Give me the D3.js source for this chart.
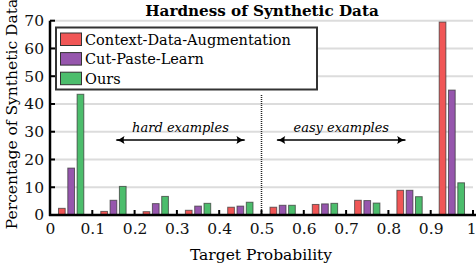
<!DOCTYPE html>
<html>
<head>
<meta charset="utf-8">
<script src="https://cdn.jsdelivr.net/npm/d3@7"></script>
<style>
  body { margin: 0; background: #fff; }
  svg text { font-family: "DejaVu Serif", serif; }
</style>
</head>
<body>
<svg id="chart" width="476" height="266"></svg>
<script>
// bins of target probability, 0.0-0.1 ... 0.9-1.0
const bins = [0, 0.1, 0.2, 0.3, 0.4, 0.5, 0.6, 0.7, 0.8, 0.9]
const seriesNames = ["Context-Data-Augmentation", "Cut-Paste-Learn", "Ours"]
const contextData = [2.4, 1.3, 1.2, 1.7, 2.8, 2.8, 3.8, 5.3, 8.9, 69.5]
const cutPaste = [16.9, 5.3, 4.1, 3.2, 3.2, 3.5, 4.0, 5.2, 8.9, 45.0]
const ours = [43.5, 10.3, 6.7, 4.2, 4.6, 3.5, 4.2, 4.3, 6.6, 11.6]
const colors = ["#f05656", "#9656ad", "#4cbd6c"]
const xTicks = [0, 0.1, 0.2, 0.3, 0.4, 0.5, 0.6, 0.7, 0.8, 0.9, 1]
const yTicks = [0, 10, 20, 30, 40, 50, 60, 70]

const FONT = "DejaVu Serif"

const svg = d3.select("#chart")

const x = d3.scaleLinear().domain([0, 1]).range([50, 473])
const y = d3.scaleLinear().domain([0, 70]).range([215, 20.7])

const allSeries = [contextData, cutPaste, ours]

// grid lines
svg.append("g")
    .selectAll("line")
    .data(yTicks.slice(1))
    .join("line")
    .attr("x1", x(0))
    .attr("x2", x(1))
    .attr("y1", d => y(d))
    .attr("y2", d => y(d))
    .attr("stroke", "#dcdcdc")
    .attr("stroke-width", 2)

// bars: three per bin, offset around bin center
const barW = 6.7
const offsets = [-0.022, 0, 0.022]
allSeries.forEach((vals, s) => {
    svg.append("g")
        .selectAll("rect")
        .data(vals)
        .join("rect")
        .attr("x", (d, i) => x(bins[i] + 0.05 + offsets[s]) - barW / 2)
        .attr("y", d => y(d))
        .attr("width", barW)
        .attr("height", d => y(0) - y(d))
        .attr("fill", colors[s])
        .attr("stroke", "#333")
        .attr("stroke-opacity", 0.7)
        .attr("stroke-width", 1)
})

// dotted divider at 0.5
svg.append("line")
    .attr("x1", x(0.5)).attr("x2", x(0.5))
    .attr("y1", 95).attr("y2", y(0))
    .attr("stroke", "#222")
    .attr("stroke-width", 1.5)
    .attr("stroke-dasharray", "1,1")

// axes
const xAxis = d3.axisBottom(x)
    .tickValues(xTicks)
    .tickSize(0)
    .tickPadding(8)
    .tickFormat(d => d === 0 || d === 1 ? d3.format("d")(d) : d3.format(".1f")(d))
const gx = svg.append("g")
    .attr("transform", `translate(0,${y(0)})`)
    .call(xAxis)
gx.attr("font-family", FONT).attr("font-size", 15.5)
gx.select(".domain").attr("stroke", "#000").attr("stroke-width", 2.5)
    .attr("d", `M${x(0) - 1},0H476`)
gx.selectAll(".tick text").attr("fill", "#111")
// last label sits at the right edge, keep it inside the picture
gx.selectAll(".tick text").filter(d => d === 1).attr("text-anchor", "end").attr("dx", 3)

// small inner ticks on x axis
svg.append("g")
    .selectAll("line")
    .data(xTicks.slice(1))
    .join("line")
    .attr("x1", d => x(d)).attr("x2", d => x(d))
    .attr("y1", y(0)).attr("y2", y(0) - 5)
    .attr("stroke", "#000")
    .attr("stroke-width", 2)

const yAxis = d3.axisLeft(y)
    .tickValues(yTicks)
    .tickSize(0)
    .tickPadding(6)
const gy = svg.append("g")
    .attr("transform", `translate(${x(0)},0)`)
    .call(yAxis)
gy.attr("font-family", FONT).attr("font-size", 15.5)
gy.select(".domain").attr("stroke", "#000").attr("stroke-width", 2.5)
    .attr("d", `M0,${y(70)}V${y(0) + 1}`)
gy.selectAll(".tick text").attr("fill", "#111")

svg.append("g")
    .selectAll("line")
    .data(yTicks.slice(1))
    .join("line")
    .attr("x1", x(0)).attr("x2", x(0) + 5)
    .attr("y1", d => y(d)).attr("y2", d => y(d))
    .attr("stroke", "#000")
    .attr("stroke-width", 2)

// title and axis labels
svg.append("text")
    .attr("x", 262).attr("y", 16)
    .attr("text-anchor", "middle")
    .attr("font-size", 15.2)
    .attr("font-weight", "bold")
    .text("Hardness of Synthetic Data")

svg.append("text")
    .attr("x", 261).attr("y", 260)
    .attr("text-anchor", "middle")
    .attr("font-size", 15.5)
    .text("Target Probability")

svg.append("text")
    .attr("transform", "translate(17,114) rotate(-90)")
    .attr("text-anchor", "middle")
    .attr("font-size", 15.5)
    .text("Percentage of Synthetic Data")

// annotations with double arrows
const defs = svg.append("defs")
defs.append("marker")
    .attr("id", "head")
    .attr("viewBox", "0 0 10 10")
    .attr("refX", 9).attr("refY", 5)
    .attr("markerWidth", 10).attr("markerHeight", 9)
    .attr("markerUnits", "userSpaceOnUse")
    .attr("orient", "auto-start-reverse")
    .append("path")
    .attr("d", "M0,0.5 Q4,4 10,5 Q4,6 0,9.5 Q2,5 0,0.5 Z")
    .attr("fill", "#000")

const notes = [
    {label: "hard examples", from: 0.157, to: 0.46},
    {label: "easy examples", from: 0.537, to: 0.84}
]
notes.forEach(n => {
    svg.append("line")
        .attr("x1", x(n.from)).attr("x2", x(n.to))
        .attr("y1", 140).attr("y2", 140)
        .attr("stroke", "#000")
        .attr("stroke-width", 1.3)
        .attr("marker-start", "url(#head)")
        .attr("marker-end", "url(#head)")
    svg.append("text")
        .attr("x", (x(n.from) + x(n.to)) / 2).attr("y", 132)
        .attr("text-anchor", "middle")
        .attr("font-size", 13)
        .attr("font-style", "italic")
        .text(n.label)
})

// legend
const legend = svg.append("g")
legend.append("rect")
    .attr("x", 56).attr("y", 27.5)
    .attr("width", 261).attr("height", 62)
    .attr("fill", "#fff")
    .attr("stroke", "#333")
    .attr("stroke-width", 2)
seriesNames.forEach((name, i) => {
    legend.append("rect")
        .attr("x", 60.5).attr("y", 33 + i * 19.6)
        .attr("width", 21).attr("height", 12.5)
        .attr("fill", colors[i])
        .attr("stroke", "#333")
        .attr("stroke-width", 1)
    legend.append("text")
        .attr("x", 85).attr("y", 44.5 + i * 19.6)
        .attr("font-size", 14.5)
        .text(name)
})
</script>
</body>
</html>
